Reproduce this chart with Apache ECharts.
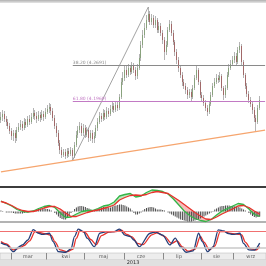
<!DOCTYPE html>
<html><head><meta charset="utf-8">
<script src="https://cdn.jsdelivr.net/npm/echarts@6/dist/echarts.min.js"></script>
<style>html,body{margin:0;padding:0;background:#fff;overflow:hidden}#c{width:266px;height:266px}</style>
</head><body><div id="c"></div>
<script>
// OHLC candles: [open, close, low, high]
const candles = [
[4.160,4.166,4.154,4.176],[4.166,4.172,4.158,4.180],[4.172,4.162,4.156,4.178],[4.162,4.156,4.148,4.168],
[4.156,4.148,4.142,4.162],[4.148,4.138,4.132,4.154],[4.138,4.128,4.120,4.144],[4.128,4.134,4.118,4.140],
[4.134,4.124,4.114,4.140],[4.124,4.140,4.118,4.146],[4.140,4.146,4.136,4.154],[4.146,4.152,4.140,4.160],
[4.152,4.144,4.138,4.158],[4.144,4.156,4.140,4.164],[4.156,4.150,4.144,4.162],[4.150,4.162,4.146,4.168],
[4.162,4.156,4.150,4.170],[4.156,4.166,4.152,4.174],[4.166,4.174,4.162,4.184],[4.174,4.168,4.160,4.180],
[4.168,4.162,4.154,4.176],[4.162,4.170,4.158,4.178],[4.170,4.164,4.156,4.176],[4.164,4.172,4.160,4.180],
[4.172,4.166,4.158,4.178],[4.166,4.176,4.162,4.184],[4.176,4.182,4.172,4.190],[4.182,4.186,4.174,4.194],
[4.186,4.178,4.170,4.192],[4.178,4.164,4.158,4.184],[4.164,4.148,4.142,4.170],[4.148,4.134,4.126,4.154],
[4.134,4.114,4.108,4.140],[4.114,4.100,4.092,4.120],[4.100,4.090,4.084,4.106],[4.090,4.096,4.086,4.102],
[4.096,4.088,4.082,4.102],[4.088,4.098,4.084,4.104],[4.098,4.092,4.086,4.104],[4.092,4.100,4.088,4.106],
[4.100,4.088,4.080,4.104],[4.088,4.110,4.084,4.116],[4.110,4.130,4.106,4.138],[4.130,4.140,4.124,4.148],
[4.140,4.148,4.134,4.156],[4.148,4.134,4.128,4.154],[4.134,4.144,4.128,4.152],[4.144,4.130,4.124,4.150],
[4.130,4.140,4.126,4.146],[4.140,4.124,4.116,4.144],[4.124,4.134,4.118,4.140],[4.134,4.122,4.114,4.140],
[4.122,4.128,4.114,4.136],[4.128,4.144,4.124,4.150],[4.144,4.156,4.138,4.164],[4.156,4.168,4.152,4.176],
[4.168,4.162,4.156,4.174],[4.162,4.174,4.158,4.182],[4.174,4.166,4.160,4.180],[4.166,4.178,4.162,4.186],
[4.178,4.172,4.166,4.184],[4.172,4.182,4.168,4.190],[4.182,4.188,4.176,4.196],[4.188,4.180,4.174,4.194],
[4.180,4.190,4.176,4.198],[4.190,4.184,4.178,4.198],[4.184,4.206,4.180,4.212],[4.206,4.236,4.202,4.244],
[4.236,4.244,4.230,4.256],[4.244,4.260,4.238,4.268],[4.260,4.250,4.244,4.268],[4.250,4.264,4.246,4.272],
[4.264,4.256,4.250,4.270],[4.256,4.268,4.252,4.276],[4.268,4.260,4.254,4.274],[4.260,4.248,4.240,4.266],
[4.248,4.264,4.242,4.272],[4.264,4.284,4.260,4.292],[4.284,4.310,4.278,4.318],[4.310,4.330,4.304,4.340],
[4.330,4.344,4.324,4.354],[4.344,4.360,4.340,4.370],[4.360,4.372,4.356,4.386],[4.372,4.356,4.350,4.378],
[4.356,4.364,4.350,4.372],[4.364,4.350,4.344,4.370],[4.350,4.360,4.344,4.368],[4.360,4.340,4.334,4.364],
[4.340,4.348,4.334,4.356],[4.348,4.334,4.328,4.354],[4.334,4.320,4.312,4.340],[4.320,4.296,4.280,4.326],
[4.296,4.310,4.290,4.318],[4.310,4.340,4.306,4.346],[4.340,4.352,4.336,4.360],[4.352,4.334,4.328,4.358],
[4.334,4.316,4.310,4.340],[4.316,4.296,4.288,4.320],[4.296,4.280,4.272,4.302],[4.280,4.264,4.256,4.286],
[4.264,4.250,4.244,4.270],[4.250,4.236,4.228,4.256],[4.236,4.228,4.222,4.242],[4.228,4.220,4.212,4.234],
[4.220,4.210,4.202,4.226],[4.210,4.216,4.204,4.222],[4.216,4.206,4.198,4.222],[4.206,4.224,4.202,4.230],
[4.224,4.244,4.220,4.250],[4.244,4.260,4.240,4.270],[4.260,4.236,4.230,4.264],[4.236,4.210,4.204,4.240],
[4.210,4.204,4.198,4.216],[4.204,4.194,4.188,4.210],[4.194,4.184,4.178,4.200],[4.184,4.176,4.168,4.190],
[4.176,4.192,4.172,4.198],[4.192,4.210,4.188,4.216],[4.210,4.228,4.206,4.234],[4.228,4.236,4.224,4.244],
[4.236,4.244,4.232,4.252],[4.244,4.240,4.234,4.250],[4.240,4.248,4.236,4.256],[4.248,4.224,4.218,4.252],
[4.224,4.210,4.200,4.228],[4.210,4.224,4.204,4.230],[4.224,4.250,4.220,4.256],[4.250,4.264,4.246,4.272],
[4.264,4.272,4.260,4.280],[4.272,4.280,4.268,4.288],[4.280,4.288,4.274,4.296],[4.288,4.276,4.270,4.294],
[4.276,4.300,4.272,4.306],[4.300,4.308,4.294,4.316],[4.308,4.276,4.270,4.312],[4.276,4.250,4.244,4.280],
[4.250,4.228,4.222,4.254],[4.228,4.212,4.206,4.234],[4.212,4.200,4.194,4.218],[4.200,4.192,4.186,4.206],
[4.192,4.180,4.172,4.198],[4.180,4.164,4.156,4.186],[4.164,4.156,4.137,4.170],[4.156,4.184,4.152,4.190],
[4.184,4.200,4.180,4.208]
];
const slotCount = 148;

// Fibonacci retracement & trend lines
const fibPcts = ['38.20', '61.80'];
const fibValues = [4.2691, 4.1969];
const fibColors = ['#8a8a8a', '#c27ac4'];
const swingLow = [40, 4.080];
const swingHigh = [82, 4.386];
const trendStart = [0, 4.0562];
const trendEnd = [147, 4.1398];

// MACD (x10^-3)
const indIdx = [0,3,6,9,12,15,18,21,24,27,30,33,36,39,42,45,48,51,54,57,60,63,66,69,72,75,78,81,84,87,90,93,96,99,102,105,108,111,114,117,120,123,126,129,132,135,138,141,144];
const macdLine = [10.5,8,5.5,2,0,-0.5,0.5,3,5,6,4,-1.5,-6,-5.5,-2.5,0,1,1,3,5.5,6.5,9.5,15.5,17,18,14.5,15.5,19,21.5,21,20,17.5,12.5,6.5,0.5,-4,-7,-9,-10,-8,-3.5,0.5,3,5.5,8,7,2.5,-3,-5];
const signalLine = [10,8.5,6,3,1,0,0,1.5,3.5,5,5,2.5,-1.5,-5,-5,-3,-1,0.5,1.5,3,4.5,6.5,11.5,14,16,16.5,16,17,19,20,19,18,14.5,11,7,3,-1,-4.5,-7.5,-8,-5.5,-2.5,0,2.5,5.5,6,4,0.5,-2.5];
const histogram = [
1,0.5,0,-1,-1,-1,-1,-1.5,-2,-2,-2,-2,-2,-1.5,-1,-1,0,0.5,1,1.5,2,2.5,3,3,3,2.5,2.5,2,1,0,
-1.5,-3,-5,-6.5,-7.5,-8,-8,-6,-4,-1.5,0.5,2.5,4,5,5.5,5.5,5,4.5,3.5,3,2,1,1.5,2,2.5,3,4,4.5,4,4,
3.5,4,5,5.5,6,6.5,7,7,6.5,6,5,4,3,1,-1.5,-3,-3,-2,-1,1,2.5,3.5,4,4.5,4.5,4,3,2,2,2,
1.5,1,0,-1,-2,-3,-4,-5,-6,-7,-8,-8.5,-9,-9.5,-10,-10,-10,-9.5,-9,-8.5,-8,-7,-6,-5,-4,-3,-2,-1,0.5,2,
3,4,5,5.5,5.5,6,6,6,5.5,5.5,5,5,4.5,4,3,2,1,0,-1.5,-3,-4.5,-5.5,-6,-5.5,-5
];

// Stochastic
const stochKIdx = [0,3,7,10,12,15,18,21,23,27,29,32,36,39,41,43,46,48,52,55,59,63,66,69,72,74,77,83,86,90,94,97,100,103,107,110,112,115,118,121,124,126,129,133,135,138,141,144];
const stochK = [37,29,3,22,29,48,88,74,70,74,42,3,1,14,62,90,80,55,22,74,80,80,90,67,61,48,22,74,78,67,29,55,22,1,6,74,42,3,22,87,83,74,70,74,35,10,9,36];
const stochDIdx = [0,3,7,10,13,16,19,22,25,28,30,33,37,40,42,44,47,50,53,56,60,64,67,70,73,76,79,84,87,91,95,98,101,104,108,111,113,116,119,122,125,127,131,134,136,139,142,144];
const stochD = [42,33,10,16,27,45,80,76,72,66,42,10,3,12,55,84,76,50,30,65,78,80,86,70,60,35,30,68,76,62,35,45,22,5,12,62,40,10,25,80,80,74,71,68,40,14,10,22];
const stochLevels = [80, 20];

// Time axis labels (positions in trading-day slots)
const monthNames = ['mar', 'kwi', 'maj', 'cze', 'lip', 'sie', 'wrz'];
const monthLabelIdx = [15, 36, 57, 78, 99, 120, 139];
const monthStartIdx = [6, 26, 47, 69, 91, 112, 130];
const yearLabel = '2013';

const slots = Array.from({length: slotCount}, (_, i) => String(i));
const bodies = candles.map(d => [d[0], d[1], Math.min(d[0], d[1]), Math.max(d[0], d[1])]);
const pair = (idx, vals) => idx.map((x, i) => [x, vals[i]]);
const bandSegs = indIdx.slice(0, -1).map((x, i) => [x, indIdx[i + 1], macdLine[i], macdLine[i + 1], signalLine[i], signalLine[i + 1]]);
const monthPoints = monthLabelIdx.map((x, k) => ({name: monthNames[k], value: [x, 0.5]}));
const monthSeparators = monthStartIdx.map(s => ({xAxis: s - 0.5}));

const UP_FILL = 'rgba(120,205,120,0.5)';
const DN_FILL = 'rgba(238,120,120,0.5)';
function renderBand(params, api) {
  const x0 = api.value(0), x1 = api.value(1), m0 = api.value(2), m1 = api.value(3), s0 = api.value(4), s1 = api.value(5);
  const d0 = m0 - s0, d1 = m1 - s1;
  const P = (x, y) => api.coord([x, y]);
  const col = d => d >= 0 ? UP_FILL : DN_FILL;
  const children = [];
  if (d0 * d1 >= 0) {
    children.push({type: 'polygon', shape: {points: [P(x0, m0), P(x1, m1), P(x1, s1), P(x0, s0)]}, style: {fill: col(d0 + d1)}});
  } else {
    const t = d0 / (d0 - d1);
    const xc = x0 + t * (x1 - x0), yc = m0 + t * (m1 - m0);
    children.push({type: 'polygon', shape: {points: [P(x0, m0), P(xc, yc), P(x0, s0)]}, style: {fill: col(d0)}});
    children.push({type: 'polygon', shape: {points: [P(xc, yc), P(x1, m1), P(x1, s1)]}, style: {fill: col(d1)}});
  }
  return {type: 'group', children};
}

const chart = echarts.init(document.getElementById('c'), null, {renderer: 'canvas', width: 266, height: 266});
const noAxis = {show: false};
const lineBase = {type: 'line', symbol: 'none', silent: true};

const fibMarks = fibValues.map((v, i) => [
  {coord: [swingLow[0], v], lineStyle: {color: fibColors[i], width: 1, type: 'solid'},
   label: {show: true, position: 'insideStartTop', distance: [0, 0.5], formatter: fibPcts[i] + ' (' + v.toFixed(4) + ')', fontSize: 4.5, color: fibColors[i], fontFamily: 'DejaVu Sans'}},
  {coord: [slotCount - 1, v]}
]);

chart.setOption({
  animation: false,
  graphic: [{type: 'rect', shape: {x: 0, y: 0, width: 266, height: 3},
    style: {fill: new echarts.graphic.LinearGradient(0, 0, 0, 1, [{offset: 0, color: '#b0b0b0'}, {offset: 1, color: '#e6e6e6'}])}}],
  grid: [
    {left: 0, right: 0, top: 3, height: 184},
    {left: 0, right: 0, top: 187, height: 35},
    {left: 0, right: 0, top: 226.5, height: 26},
    {left: 0, right: 0, top: 253, height: 6.5, show: true, backgroundColor: '#ededed', borderColor: '#b4b4b4', borderWidth: 0.5},
    {left: 0, right: 0, top: 259.5, height: 6.5, show: true, backgroundColor: '#e0e0e0', borderWidth: 0}
  ],
  xAxis: [
    {type: 'category', gridIndex: 0, data: slots, show: false},
    {type: 'category', gridIndex: 1, data: slots, position: 'bottom',
      axisLine: {onZero: false, lineStyle: {color: '#9a9a9a', width: 1.5}}, axisTick: noAxis, axisLabel: noAxis},
    {type: 'value', gridIndex: 1, min: -0.5, max: slotCount - 0.5, position: 'top',
      axisLine: {show: true, onZero: false, lineStyle: {color: '#3c3c3c', width: 2}}, axisTick: noAxis, axisLabel: noAxis, splitLine: noAxis},
    {type: 'value', gridIndex: 2, min: -0.5, max: slotCount - 0.5, show: false},
    {type: 'value', gridIndex: 3, min: -0.5, max: slotCount - 0.5, show: false},
    {type: 'category', gridIndex: 4, data: [yearLabel], position: 'bottom',
      axisLine: noAxis, axisTick: noAxis,
      axisLabel: {inside: true, fontSize: 5, color: '#333', margin: 1, fontFamily: 'DejaVu Sans'}}
  ],
  yAxis: [
    {type: 'value', gridIndex: 0, min: 4.026, max: 4.394, show: false},
    {type: 'value', gridIndex: 1, min: -10.5, max: 24.5, show: false},
    {type: 'value', gridIndex: 2, min: 0, max: 100, show: false},
    {type: 'value', gridIndex: 3, min: 0, max: 1, show: false},
    {type: 'value', gridIndex: 4, show: false}
  ],
  series: [
    {type: 'candlestick', xAxisIndex: 0, yAxisIndex: 0, data: candles, barWidth: 1, silent: true,
      itemStyle: {color: '#b4b4b4', color0: '#b4b4b4', borderColor: '#b4b4b4', borderColor0: '#b4b4b4', borderWidth: 1},
      markLine: {silent: true, symbol: 'none', animation: false, label: {show: false},
        data: [
          [{coord: trendStart, lineStyle: {color: '#f6a56e', width: 1.2, type: 'solid'}}, {coord: trendEnd}],
          [{coord: swingLow, lineStyle: {color: '#8c8c8c', width: 0.8, type: 'solid'}}, {coord: swingHigh}]
        ].concat(fibMarks)}},
    {type: 'candlestick', xAxisIndex: 0, yAxisIndex: 0, data: bodies, barWidth: 1.2, silent: true,
      itemStyle: {color: '#5f9046', color0: '#8e1f1f', borderColor: '#5f9046', borderColor0: '#8e1f1f', borderWidth: 0.5}},
    {type: 'custom', xAxisIndex: 2, yAxisIndex: 1, data: bandSegs, renderItem: renderBand, silent: true,
      encode: {x: [0, 1], y: [2, 3, 4, 5]}},
    {type: 'bar', xAxisIndex: 1, yAxisIndex: 1, data: histogram, barWidth: 1, silent: true, itemStyle: {color: '#4a4a4a'}},
    Object.assign({}, lineBase, {xAxisIndex: 2, yAxisIndex: 1, data: pair(indIdx, macdLine), lineStyle: {color: '#33b548', width: 1.3}}),
    Object.assign({}, lineBase, {xAxisIndex: 2, yAxisIndex: 1, data: pair(indIdx, signalLine), lineStyle: {color: '#e8322c', width: 1.3}}),
    Object.assign({}, lineBase, {xAxisIndex: 3, yAxisIndex: 2, data: pair(stochDIdx, stochD), smooth: 0.3, smoothMonotone: 'x', lineStyle: {color: '#e8322c', width: 1.3},
      markLine: {silent: true, symbol: 'none', label: {show: false},
        data: [{yAxis: stochLevels[0], lineStyle: {color: '#f07070', width: 1, type: 'solid'}},
               {yAxis: stochLevels[1], lineStyle: {color: '#c8c8c8', width: 1.5, type: 'solid'}}]}}),
    Object.assign({}, lineBase, {xAxisIndex: 3, yAxisIndex: 2, data: pair(stochKIdx, stochK), smooth: 0.3, smoothMonotone: 'x', lineStyle: {color: '#263f78', width: 1.3}}),
    {type: 'scatter', xAxisIndex: 4, yAxisIndex: 3, data: monthPoints, symbolSize: 0, silent: true,
      label: {show: true, position: 'inside', formatter: '{b}', fontSize: 5, color: '#333', fontFamily: 'DejaVu Sans'},
      markLine: {silent: true, symbol: 'none', label: {show: false}, lineStyle: {color: '#8a8a8a', width: 1, type: 'solid'}, data: monthSeparators}}
  ]
});
</script>
</body></html>
